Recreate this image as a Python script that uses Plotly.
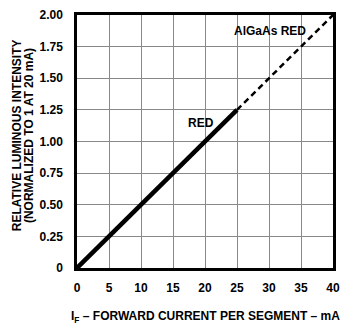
import plotly.graph_objects as go

# red LED, measured part (solid)
red_current = [0, 25]
red_intensity = [0, 1.25]
# AlGaAs red, extrapolated part (dashed)
algaas_current = [25, 40]
algaas_intensity = [1.25, 2.0]

x_ticks = [0, 5, 10, 15, 20, 25, 30, 35, 40]
y_ticks = [0, 0.25, 0.5, 0.75, 1.0, 1.25, 1.5, 1.75, 2.0]
y_ticktext = ["0", "0.25", "0.50", "0.75", "1.00", "1.25", "1.50", "1.75", "2.00"]

fnt = "Liberation Sans, Arial, sans-serif"
tick_font = dict(family=fnt, size=12, color="black", weight="bold")

fig = go.Figure()
fig.add_trace(go.Scatter(x=red_current, y=red_intensity, mode="lines",
                         line=dict(color="black", width=4.5), name="RED"))
fig.add_trace(go.Scatter(x=algaas_current, y=algaas_intensity, mode="lines",
                         line=dict(color="black", width=2.5, dash="6px,4px"),
                         name="AlGaAs RED"))

fig.add_annotation(x=19.3, y=1.15, text="<b>RED</b>", showarrow=False,
                   font=dict(family=fnt, size=12, color="black"))
fig.add_annotation(x=30.2, y=1.87, text="<b>AlGaAs RED</b>", showarrow=False,
                   font=dict(family=fnt, size=12, color="black"))

# y axis title, two lines set close together
fig.add_annotation(xref="paper", yref="paper", x=-0.236, y=0.523,
                   text="<b>RELATIVE LUMINOUS INTENSITY</b>",
                   textangle=-90, showarrow=False, xanchor="center",
                   font=dict(family=fnt, size=12, color="black"))
fig.add_annotation(xref="paper", yref="paper", x=-0.19, y=0.523,
                   text="<b>(NORMALIZED TO 1 AT 20 mA)</b>",
                   textangle=-90, showarrow=False, xanchor="center",
                   font=dict(family=fnt, size=12, color="black"))
# x axis title
fig.add_annotation(xref="paper", yref="paper", x=0.5, y=-0.195,
                   text="<b>I<sub>F</sub> – FORWARD CURRENT PER SEGMENT – mA</b>",
                   showarrow=False, yanchor="middle",
                   font=dict(family=fnt, size=12, color="black"))

fig.update_xaxes(range=[0, 40], tickvals=x_ticks, showgrid=True,
                 gridcolor="#888888", gridwidth=1, showline=True, mirror=True,
                 linecolor="black", linewidth=2.5, zeroline=False,
                 tickfont=tick_font, ticks="", ticklabelstandoff=7)
fig.update_yaxes(range=[0, 2.0], tickvals=y_ticks, ticktext=y_ticktext,
                 showgrid=True, gridcolor="#888888", gridwidth=1, showline=True,
                 mirror=True, linecolor="black", linewidth=2.5, zeroline=False,
                 tickfont=tick_font, ticks="", ticklabelstandoff=9)

fig.update_layout(width=348, height=329, margin=dict(l=77, r=8, t=12, b=61),
                  plot_bgcolor="white", paper_bgcolor="white", showlegend=False,
                  font=dict(family=fnt, color="black"))

# drop the default body margin so the figure fills the window exactly
fig.write_html("out.html", config={"displayModeBar": False},
               post_script="document.body.style.margin='0';"
                           "document.body.style.overflow='hidden';")
